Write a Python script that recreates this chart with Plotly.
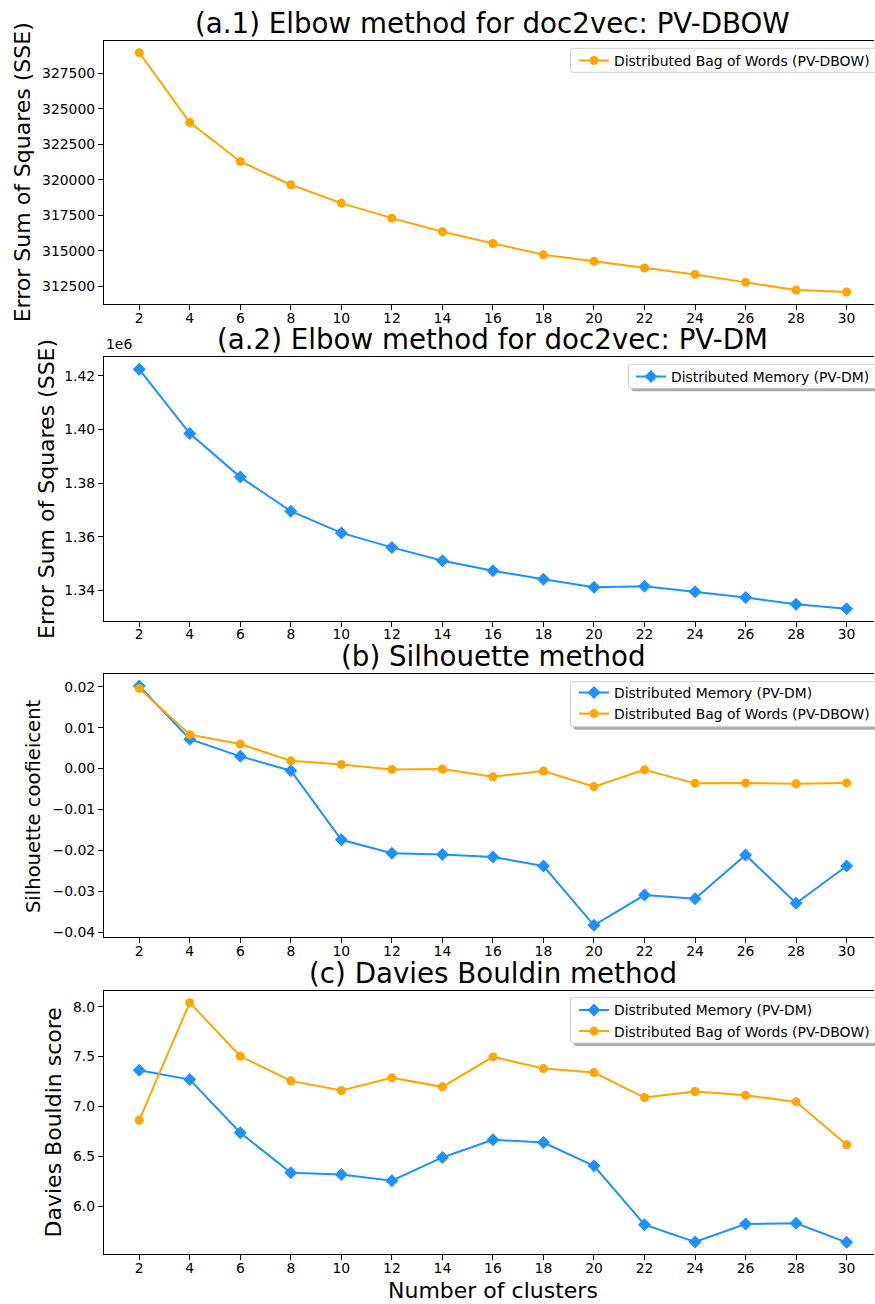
import plotly.graph_objects as go

# ---- data -------------------------------------------------------------
clusters = [2, 4, 6, 8, 10, 12, 14, 16, 18, 20, 22, 24, 26, 28, 30]

# (a.1) elbow, PV-DBOW
sse_dbow = [328950, 324030, 321290, 319650, 318360, 317300, 316340, 315520,
            314720, 314260, 313790, 313340, 312780, 312240, 312100]
# (a.2) elbow, PV-DM
sse_dm = [1422500, 1398500, 1382250, 1369500, 1361400, 1356000, 1351000, 1347250,
          1344100, 1341100, 1341500, 1339400, 1337250, 1334750, 1333100]
# (b) silhouette
sil_dm = [0.0202, 0.0072, 0.0030, -0.0005, -0.0174, -0.0207, -0.0210, -0.0216,
          -0.0238, -0.0383, -0.0309, -0.0318, -0.0211, -0.0329, -0.0238]
sil_dbow = [0.0196, 0.0083, 0.0060, 0.0019, 0.0010, -0.0002, -0.0001, -0.0020,
            -0.0006, -0.0044, -0.0003, -0.0036, -0.0035, -0.0037, -0.0035]
# (c) Davies-Bouldin
db_dm = [7.363, 7.270, 6.737, 6.337, 6.320, 6.257, 6.490, 6.667,
         6.640, 6.407, 5.817, 5.643, 5.823, 5.830, 5.640]
db_dbow = [6.863, 8.040, 7.503, 7.257, 7.160, 7.287, 7.197, 7.497,
           7.380, 7.340, 7.090, 7.150, 7.113, 7.047, 6.617]

# tick labels
sse_dbow_ticks = [312500, 315000, 317500, 320000, 322500, 325000, 327500]
sse_dm_ticks = [1340000, 1360000, 1380000, 1400000, 1420000]
sse_dm_ticktext = ["1.34", "1.36", "1.38", "1.40", "1.42"]
sil_ticks = [-0.04, -0.03, -0.02, -0.01, 0.00, 0.01, 0.02]
sil_ticktext = ["\u22120.04", "\u22120.03", "\u22120.02", "\u22120.01", "0.00", "0.01", "0.02"]
db_ticks = [6.0, 6.5, 7.0, 7.5, 8.0]
db_ticktext = ["6.0", "6.5", "7.0", "7.5", "8.0"]

titles = ["(a.1) Elbow method for doc2vec: PV-DBOW",
          "(a.2) Elbow method for doc2vec: PV-DM",
          "(b) Silhouette method",
          "(c) Davies Bouldin method"]
ylabels = ["Error Sum of Squares (SSE)", "Error Sum of Squares (SSE)",
           "Silhouette coofieicent", "Davies Bouldin score"]
xlabel = "Number of clusters"
name_dm = "Distributed Memory (PV-DM)"
name_dbow = "Distributed Bag of Words (PV-DBOW)"

# ---- styling ------------------------------------------------------------
W, H = 875, 1304
FONT = "DejaVu Sans"
BLUE = "#1E90FF"
ORANGE = "#FFA500"
TICK_SIZE = 13.9
LABEL_SIZE = 22
TITLE_SIZE = 27.7

AX_LEFT = 104          # left spine (px)
AX_RIGHT_FULL = 883    # right spine of the full axes, beyond the page edge
panels_px = [(40.7, 304.0), (357.3, 620.7), (674.0, 937.3), (990.7, 1254.3)]
ylabel_x = [22, 46, 33.5, 54]
ylabel_size = [LABEL_SIZE, LABEL_SIZE, 19.6, LABEL_SIZE]

# legend frames: (left, top, bottom, first-row centre, shadow)
legend_boxes = [(571, 48.3, 72.3, 60.0, False),
                (629, 364.3, 388.3, 376.0, True),
                (571, 681.7, 726.7, 692.0, True),
                (571, 997.3, 1043.0, 1009.5, True)]


def px_x(x):
    return x / W


def px_y(y):
    return 1 - y / H


def padded(vals, frac=0.05):
    lo, hi = min(vals), max(vals)
    pad = (hi - lo) * frac
    return [lo - pad, hi + pad]


def round_rect(x0, y0, x1, y1, r):
    """SVG path (paper coords) of a rectangle given in px with rounded corners."""
    pts = [
        f"M {px_x(x0 + r)} {px_y(y0)}",
        f"L {px_x(x1 - r)} {px_y(y0)}",
        f"Q {px_x(x1)} {px_y(y0)} {px_x(x1)} {px_y(y0 + r)}",
        f"L {px_x(x1)} {px_y(y1 - r)}",
        f"Q {px_x(x1)} {px_y(y1)} {px_x(x1 - r)} {px_y(y1)}",
        f"L {px_x(x0 + r)} {px_y(y1)}",
        f"Q {px_x(x0)} {px_y(y1)} {px_x(x0)} {px_y(y1 - r)}",
        f"L {px_x(x0)} {px_y(y0 + r)}",
        f"Q {px_x(x0)} {px_y(y0)} {px_x(x0 + r)} {px_y(y0)}",
        "Z",
    ]
    return " ".join(pts)


# x range with 5% padding; the page cuts the axes off on the right
x_full = padded(clusters)
x_scale = (AX_RIGHT_FULL - AX_LEFT) / (x_full[1] - x_full[0])
x_range = [x_full[0], x_full[0] + (W - AX_LEFT) / x_scale]

fig = go.Figure()

series = [
    [(sse_dbow, name_dbow, ORANGE, "circle", 9)],
    [(sse_dm, name_dm, BLUE, "diamond", 10)],
    [(sil_dm, name_dm, BLUE, "diamond", 10), (sil_dbow, name_dbow, ORANGE, "circle", 9)],
    [(db_dm, name_dm, BLUE, "diamond", 10), (db_dbow, name_dbow, ORANGE, "circle", 9)],
]
yticks = [
    (sse_dbow_ticks, [str(v) for v in sse_dbow_ticks]),
    (sse_dm_ticks, sse_dm_ticktext),
    (sil_ticks, sil_ticktext),
    (db_ticks, db_ticktext),
]

layout = dict(
    width=W, height=H, autosize=False, showlegend=True,
    margin=dict(l=0, r=0, t=0, b=0),
    paper_bgcolor="white", plot_bgcolor="white",
    font=dict(family=FONT, size=TICK_SIZE, color="black"),
    annotations=[], shapes=[],
)

for i, (top, bot) in enumerate(panels_px):
    k = "" if i == 0 else str(i + 1)
    xa, ya = "x" + k, "y" + k
    leg = "legend" + k
    all_vals = []
    for vals, name, color, symbol, size in series[i]:
        all_vals += vals
        fig.add_trace(go.Scatter(
            x=clusters, y=vals, name=name, mode="lines+markers",
            line=dict(color=color, width=2),
            marker=dict(symbol=symbol, size=size, color=color, line=dict(width=0)),
            xaxis=xa, yaxis=ya, legend=leg, showlegend=True,
        ))

    ydom = [px_y(bot), px_y(top)]
    layout["xaxis" + k] = dict(
        domain=[px_x(AX_LEFT), 1], range=x_range, anchor=ya,
        tickvals=clusters, ticktext=[str(c) for c in clusters],
        ticks="outside", ticklen=5, tickwidth=1, tickcolor="black",
        ticklabelstandoff=-4,
        showline=True, linecolor="black", linewidth=1, mirror=True,
        showgrid=False, zeroline=False, automargin=False,
        tickfont=dict(family=FONT, size=TICK_SIZE, color="black"),
    )
    tv, tt = yticks[i]
    layout["yaxis" + k] = dict(
        domain=ydom, range=padded(all_vals), anchor=xa,
        tickvals=tv, ticktext=tt,
        ticks="outside", ticklen=5, tickwidth=1, tickcolor="black",
        showline=True, linecolor="black", linewidth=1, mirror=False,
        showgrid=False, zeroline=False, automargin=False,
        tickfont=dict(family=FONT, size=TICK_SIZE, color="black"),
    )

    # legend frame drawn as shapes, entries placed on top of it
    bx, btop, bbot, row1, shadow = legend_boxes[i]
    if shadow:
        layout["shapes"].append(dict(
            type="path", xref="paper", yref="paper",
            path=round_rect(bx + 3, btop + 3, W + 10, bbot + 3, 3),
            fillcolor="rgba(90,90,90,0.5)", line=dict(width=0), layer="above",
        ))
    layout["shapes"].append(dict(
        type="path", xref="paper", yref="paper",
        path=round_rect(bx, btop, W + 10, bbot, 3),
        fillcolor="white", line=dict(color="#cccccc", width=1), layer="above",
    ))
    layout[leg] = dict(
        x=px_x(bx + 3), y=px_y(row1 - 15), xanchor="left", yanchor="top",
        xref="paper", yref="paper",
        bgcolor="rgba(0,0,0,0)", borderwidth=0,
        font=dict(family=FONT, size=TICK_SIZE, color="black"),
        traceorder="normal", tracegroupgap=0,
    )

    # title
    layout["annotations"].append(dict(
        text=titles[i], x=(AX_LEFT + AX_RIGHT_FULL) / 2 / W, y=px_y(top - 17.5),
        xref="paper", yref="paper", xanchor="center", yanchor="middle",
        showarrow=False, font=dict(family=FONT, size=TITLE_SIZE, color="black"),
    ))
    # y label
    layout["annotations"].append(dict(
        text=ylabels[i], x=px_x(ylabel_x[i]), y=px_y((top + bot) / 2),
        xref="paper", yref="paper", xanchor="center", yanchor="middle",
        textangle=-90, showarrow=False,
        font=dict(family=FONT, size=ylabel_size[i], color="black"),
    ))

# offset text of the PV-DM SSE axis
layout["annotations"].append(dict(
    text="1e6", x=px_x(AX_LEFT), y=px_y(354), xref="paper", yref="paper",
    xanchor="left", yanchor="bottom", showarrow=False,
    font=dict(family=FONT, size=TICK_SIZE, color="black"),
))
# shared x label
layout["annotations"].append(dict(
    text=xlabel, x=(AX_LEFT + AX_RIGHT_FULL) / 2 / W, y=px_y(1290),
    xref="paper", yref="paper", xanchor="center", yanchor="middle",
    showarrow=False, font=dict(family=FONT, size=LABEL_SIZE, color="black"),
))

fig.update_layout(**layout)
fig.write_html("out.html")
